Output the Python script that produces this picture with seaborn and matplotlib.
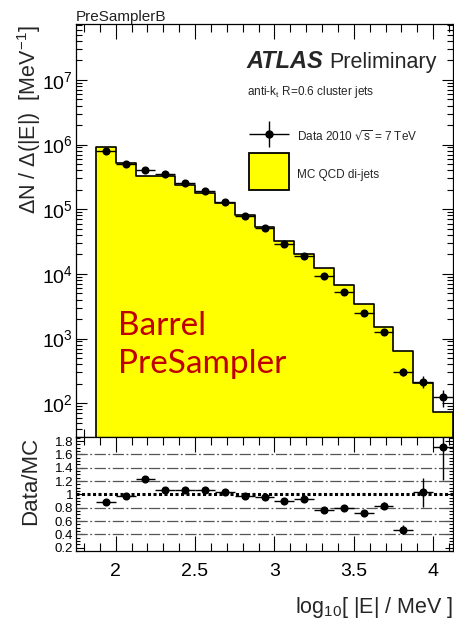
import numpy as np
import pandas as pd
import matplotlib
matplotlib.use("Agg")
import matplotlib.pyplot as plt
from matplotlib.ticker import MultipleLocator, LogLocator, NullFormatter, FixedLocator
from matplotlib.patches import Rectangle
import seaborn as sns

sns.set_theme(style="ticks")
plt.rcParams["font.family"] = ["Liberation Sans", "DejaVu Sans"]
plt.rcParams["mathtext.default"] = "regular"

# ---- data: log10(|E|/MeV) bins, measured and simulated spectra ----
bin_edges = [1.875, 2.0, 2.125, 2.25, 2.375, 2.5, 2.625, 2.75, 2.875, 3.0,
             3.125, 3.25, 3.375, 3.5, 3.625, 3.75, 3.875, 4.0, 4.125]
data_counts = [7.97e5, 4.97e5, 4.01e5, 3.46e5, 2.54e5, 1.91e5, 1.30e5, 7.97e4,
               5.10e4, 2.93e4, 1.87e4, 9.39e3, 5.32e3, 2.47e3, 1.245e3, 305, 214, 124]
data_errors = [8.0e3, 5.0e3, 4.0e3, 3.5e3, 2.5e3, 1.9e3, 1.3e3, 8.0e2,
               5.1e2, 2.9e2, 2.8e2, 1.9e2, 1.3e2, 74, 75, 46, 45, 36]
mc_counts = [9.06e5, 5.12e5, 3.26e5, 3.26e5, 2.37e5, 1.80e5, 1.26e5, 8.13e4,
             5.31e4, 3.26e4, 2.01e4, 1.22e4, 6.74e3, 3.43e3, 1.50e3, 650, 208, 72.6]

x_ticks = [2.0, 2.5, 3.0, 3.5, 4.0]
x_tick_labels = ["2", "2.5", "3", "3.5", "4"]
ratio_ticks = [0.2, 0.4, 0.6, 0.8, 1.0, 1.2, 1.4, 1.6, 1.8]
ratio_tick_labels = ["0.2", "0.4", "0.6", "0.8", "1", "1.2", "1.4", "1.6", "1.8"]
ratio_grid = [0.4, 0.6, 0.8, 1.2, 1.4, 1.6]

edges = np.array(bin_edges)
centers = 0.5 * (edges[:-1] + edges[1:])
half_w = 0.5 * np.diff(edges)
df = pd.DataFrame({
    "x": centers,
    "data": data_counts,
    "err": data_errors,
    "mc": mc_counts,
})
df["ratio"] = df["data"] / df["mc"]
df["ratio_err"] = df["err"] / df["mc"]

W, H = 454, 625
fig = plt.figure(figsize=(W / 100, H / 100), dpi=100)
fig.patch.set_facecolor("white")


def fx(px):
    return px / W


def fy(py):
    return 1 - py / H


L, R = 76, 453
T_MAIN, B_MAIN, B_RATIO = 24, 437, 551
ax = fig.add_axes([fx(L), fy(B_MAIN), fx(R) - fx(L), fy(T_MAIN) - fy(B_MAIN)])
axr = fig.add_axes([fx(L), fy(B_RATIO), fx(R) - fx(L), fy(B_MAIN) - fy(B_RATIO)])

# ---- main panel ----
ax.set_yscale("log")
sns.histplot(data=df, x="x", weights="mc", bins=list(bin_edges), element="step", fill=True,
             color="#ffff00", alpha=1.0, edgecolor="black", linewidth=1.2, ax=ax)
ax.errorbar(df["x"], df["data"], xerr=half_w, yerr=df["err"], fmt="none",
            ecolor="black", elinewidth=1.0, capsize=0, zorder=4)
sns.scatterplot(data=df, x="x", y="data", color="black", s=34, edgecolor="black",
                linewidth=0, ax=ax, zorder=5)

ax.set_xlim(1.75, 4.125)
ax.set_ylim(30, 7.3e7)
ax.set_xlabel("")
ax.set_ylabel("")
ax.xaxis.set_major_locator(FixedLocator(x_ticks))
ax.xaxis.set_minor_locator(MultipleLocator(0.1))
ax.xaxis.set_major_formatter(NullFormatter())
ax.yaxis.set_major_locator(LogLocator(base=10, numticks=12))
ax.yaxis.set_minor_locator(LogLocator(base=10, subs=np.arange(2, 10), numticks=12))
ax.yaxis.set_minor_formatter(NullFormatter())
ax.tick_params(axis="both", which="both", direction="in", top=True, right=True, colors="black")
ax.tick_params(axis="x", which="major", length=11, width=0.8)
ax.tick_params(axis="x", which="minor", length=5.5, width=0.8)
ax.tick_params(axis="y", which="major", length=8, width=0.8, labelsize=14, pad=2)
ax.tick_params(axis="y", which="minor", length=4, width=0.8)
for s in ax.spines.values():
    s.set_linewidth(0.9)
    s.set_color("black")

# legend glyphs and labels
ax.errorbar([0.512], [0.734], xerr=[0.053], yerr=[0.0315], fmt="o", color="black",
            markersize=5, elinewidth=1.0, capsize=0, transform=ax.transAxes, zorder=6)
ax.add_patch(Rectangle((0.459, 0.598), 0.106, 0.0896, transform=ax.transAxes,
                       facecolor="#ffff00", edgecolor="black", linewidth=1.3, zorder=6))
ax.text(0.586, 0.727, r"Data 2010 $\sqrt{s}$ = 7 TeV", transform=ax.transAxes,
        fontsize=8.5, va="center", ha="left")
ax.text(0.586, 0.635, "MC QCD di-jets", transform=ax.transAxes,
        fontsize=8.5, va="center", ha="left")

fig.text(fx(246), fy(68), "ATLAS", fontsize=17, fontweight="bold", fontstyle="italic",
         va="baseline", ha="left")
fig.text(fx(329), fy(68), "Preliminary", fontsize=15.5, va="baseline", ha="left")
fig.text(fx(247), fy(92), r"anti-k$_{t}$ R=0.6 cluster jets", fontsize=8.5,
         va="center", ha="left")

fig.text(fx(118), fy(335), "Barrel", fontsize=24, color="#c00000",
         family=["Lato", "DejaVu Sans"], va="baseline", ha="left")
fig.text(fx(118), fy(373), "PreSampler", fontsize=24, color="#c00000",
         family=["Lato", "DejaVu Sans"], va="baseline", ha="left")

fig.text(fx(76), fy(21), "PreSamplerB", fontsize=11, color="#222222",
         va="baseline", ha="left")
fig.text(fx(29), fy(25), r"$\Delta$N / $\Delta$(|E|)  [MeV$^{-1}$]", fontsize=15.5,
         rotation=90, va="top", ha="center")

# ---- ratio panel ----
for g in ratio_grid:
    axr.axhline(g, color="#555555", linewidth=0.9, linestyle=(0, (9, 2, 1.5, 2)), zorder=1)
axr.axhline(1.0, color="black", linewidth=2.2, linestyle=(0, (1, 0.8)), zorder=2)
axr.errorbar(df["x"], df["ratio"], xerr=half_w, yerr=df["ratio_err"], fmt="none",
             ecolor="black", elinewidth=1.0, capsize=0, zorder=4)
sns.scatterplot(data=df, x="x", y="ratio", color="black", s=34, edgecolor="black",
                linewidth=0, ax=axr, zorder=5)

axr.set_xlim(1.75, 4.125)
axr.set_ylim(0.15, 1.86)
axr.set_xlabel("")
axr.set_ylabel("")
axr.set_xticks(x_ticks)
axr.set_xticklabels(x_tick_labels)
axr.xaxis.set_minor_locator(MultipleLocator(0.1))
axr.set_yticks(ratio_ticks)
axr.set_yticklabels(ratio_tick_labels)
axr.yaxis.set_minor_locator(MultipleLocator(0.05))
axr.tick_params(axis="both", which="both", direction="in", top=True, right=True, colors="black")
axr.tick_params(axis="x", which="major", length=11, width=0.8, labelsize=14, pad=9)
axr.tick_params(axis="x", which="minor", length=6, width=0.8)
axr.tick_params(axis="y", which="major", length=6, width=0.8, labelsize=9.5, pad=2)
axr.tick_params(axis="y", which="minor", length=3, width=0.8)
for s in axr.spines.values():
    s.set_linewidth(0.9)
    s.set_color("black")

fig.text(fx(31), fy(481), "Data/MC", fontsize=16, rotation=90, va="center", ha="center")
fig.text(fx(453), fy(613), r"log$_{10}$[ |E| / MeV ]", fontsize=15.5,
         va="baseline", ha="right")

fig.savefig("out.png", dpi=100, facecolor="white")
